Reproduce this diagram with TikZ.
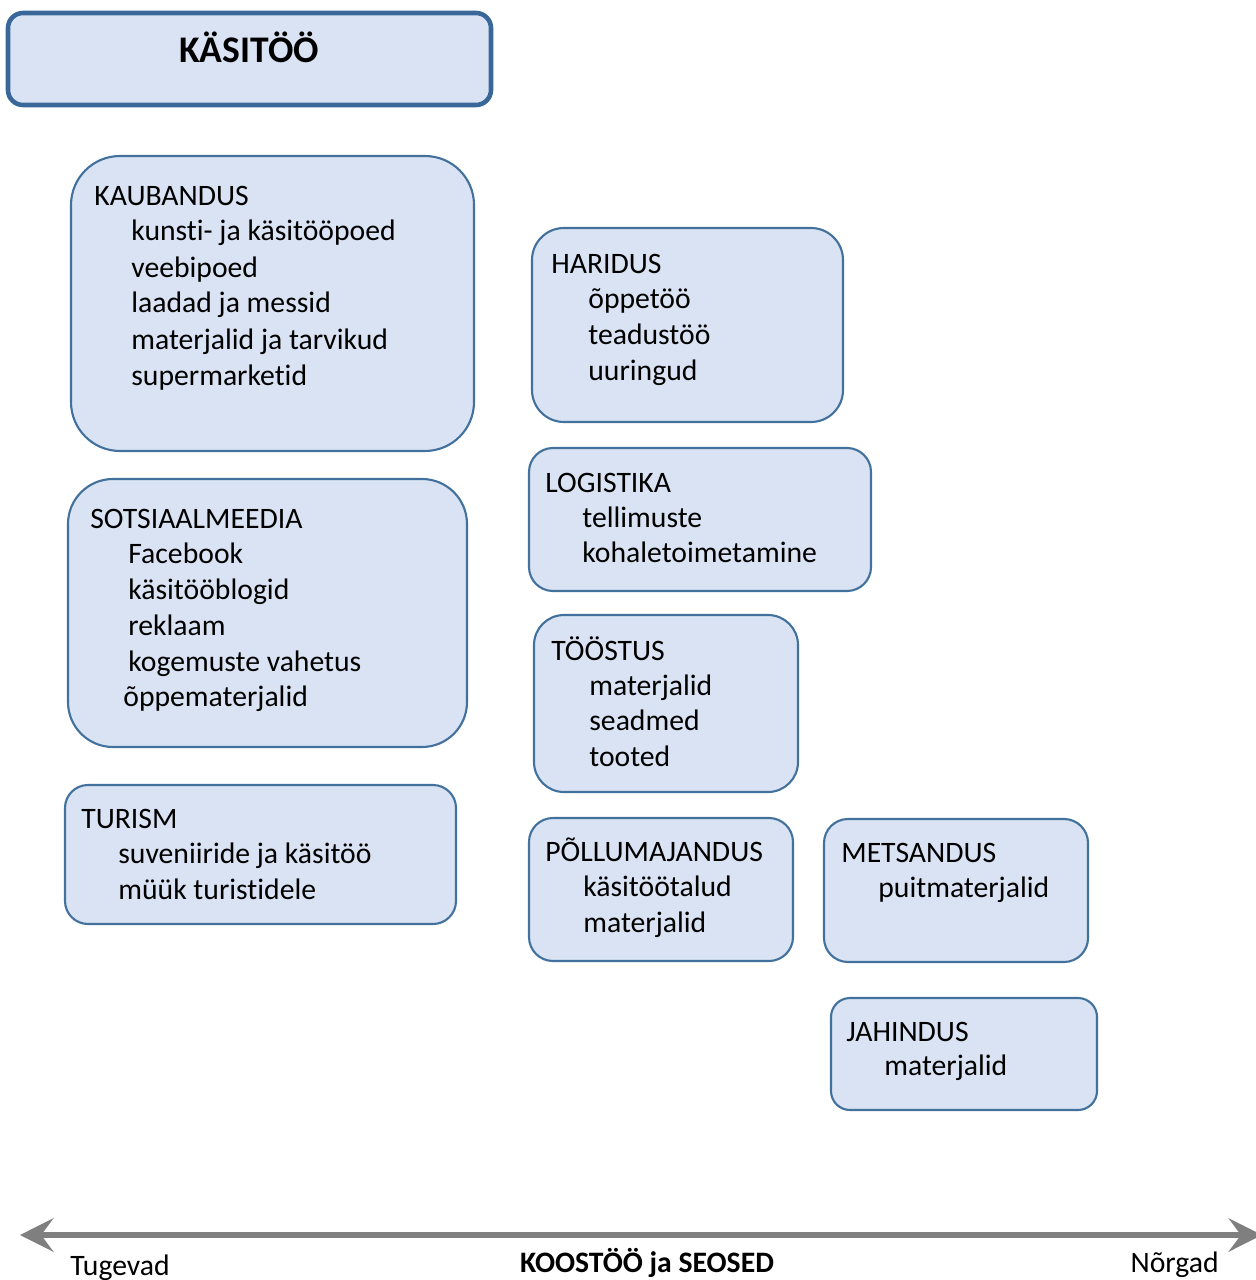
\documentclass[tikz,border=0pt]{standalone}
\usepackage{fontspec}
\setmainfont{Carlito}[Ligatures=NoCommon]
\usetikzlibrary{arrows.meta}
\definecolor{panelfill}{HTML}{DAE3F3}
\definecolor{panelblue}{HTML}{41719C}
\definecolor{titleblue}{HTML}{3A679A}
\definecolor{axisgray}{HTML}{7F7F7F}
\tikzset{
  panel/.style={draw=panelblue,fill=panelfill,line width=1.2pt},
  txt/.style={anchor=base west,inner sep=0pt,font=\fontsize{16.9}{20}\selectfont},
}
\begin{document}
\begin{tikzpicture}[x=0.02cm,y=-0.02cm]
\useasboundingbox (0,0) rectangle (1256,1280);
% title
\filldraw[fill=panelfill,draw=titleblue,line width=2.6pt,rounded corners=0.3cm] (8,13) rectangle (491,105);
\node[anchor=base,inner sep=0pt,font=\fontsize{21.4}{25}\selectfont\bfseries] (title) at (249,63) {KÄSITÖÖ};
% left column
\filldraw[panel,rounded corners=0.98cm] (71,156) rectangle (474,451);
\node[txt] (kau) at (94,206) {KAUBANDUS};
\node[txt] (kau1) at (131,241) {kunsti- ja käsitööpoed};
\node[txt] (kau2) at (131,277) {veebipoed};
\node[txt] (kau3) at (131,313) {laadad ja messid};
\node[txt] (kau4) at (131,349) {materjalid ja tarvikud};
\node[txt] (kau5) at (131,385) {supermarketid};
\filldraw[panel,rounded corners=0.9cm] (68,479) rectangle (467,747);
\node[txt] (sots) at (90,528) {SOTSIAALMEEDIA};
\node[txt] (sots1) at (128,563) {Facebook};
\node[txt] (sots2) at (128,599) {käsitööblogid};
\node[txt] (sots3) at (128,635) {reklaam};
\node[txt] (sots4) at (128,671) {kogemuste vahetus};
\node[txt] (sots5) at (123,706) {õppematerjalid};
\filldraw[panel,rounded corners=0.46cm] (65,785) rectangle (456,924);
\node[txt] (tur) at (81,828) {TURISM};
\node[txt] (tur1) at (118,863) {suveniiride ja käsitöö};
\node[txt] (tur2) at (118,899) {müük turistidele};
% middle column
\filldraw[panel,rounded corners=0.64cm] (532,228) rectangle (843,422);
\node[txt] (har) at (551,274) {HARIDUS};
\node[txt] (har1) at (588,309) {õppetöö};
\node[txt] (har2) at (588,344) {teadustöö};
\node[txt] (har3) at (588,380) {uuringud};
\filldraw[panel,rounded corners=0.48cm] (529,448) rectangle (871,591);
\node[txt] (log) at (545,492) {LOGISTIKA};
\node[txt] (log1) at (582,527) {tellimuste};
\node[txt] (log2) at (582,562) {kohaletoimetamine};
\filldraw[panel,rounded corners=0.6cm] (534,615) rectangle (798,792);
\node[txt] (too) at (551,660) {TÖÖSTUS};
\node[txt] (too1) at (589,695) {materjalid};
\node[txt] (too2) at (589,730) {seadmed};
\node[txt] (too3) at (589,766) {tooted};
\filldraw[panel,rounded corners=0.48cm] (529,818) rectangle (793,961);
\node[txt] (pol) at (545,861) {PÕLLUMAJANDUS};
\node[txt] (pol1) at (583,896) {käsitöötalud};
\node[txt] (pol2) at (583,932) {materjalid};
% right column
\filldraw[panel,rounded corners=0.48cm] (824,819) rectangle (1088,962);
\node[txt] (mets) at (841,862) {METSANDUS};
\node[txt] (mets1) at (878,897) {puitmaterjalid};
\filldraw[panel,rounded corners=0.38cm] (831,998) rectangle (1097,1110);
\node[txt] (jah) at (846,1041) {JAHINDUS};
\node[txt] (jah1) at (884,1075) {materjalid};
% axis
\coordinate (strong) at (20,1235);
\coordinate (weak) at (1262,1235);
\draw[draw=axisgray,line width=3.4pt,{Stealth[length=19pt,width=19pt,inset=7pt]}-{Stealth[length=19pt,width=19pt,inset=7pt]}] (strong) -- (weak);
\node[txt] (tug) at (70,1275) {Tugevad};
\node[anchor=base,inner sep=0pt,font=\fontsize{16.9}{20}\selectfont\bfseries] (koos) at (647,1272) {KOOSTÖÖ ja SEOSED};
\node[txt,anchor=base east] (nor) at (1219,1272) {Nõrgad};
\end{tikzpicture}
\end{document}
